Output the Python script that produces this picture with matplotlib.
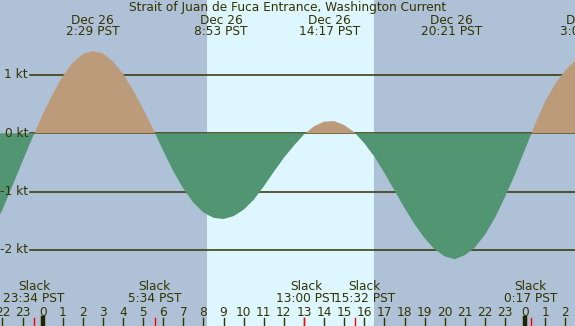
import matplotlib
import numpy as np

matplotlib.use("Agg")
from matplotlib import pyplot as plt
from matplotlib import transforms

# hours relative to midnight starting Dec 26 (PST), sampled every half hour
hours = np.arange(-2.5, 27.01, 0.5)
speed_kt = [
    -1.66, -1.31, -0.90, -0.48, -0.07,
    0.32, 0.67, 0.98, 1.21, 1.36, 1.41, 1.37, 1.23, 1.02, 0.74, 0.42, 0.07,
    -0.30, -0.65, -0.95, -1.19, -1.36, -1.45, -1.47, -1.42, -1.31, -1.14,
    -0.91, -0.66, -0.42, -0.21, -0.02,
    0.12, 0.20, 0.21, 0.14, 0.02,
    -0.17, -0.40, -0.68, -0.98, -1.28, -1.56, -1.80, -1.99, -2.11, -2.16,
    -2.09, -1.96, -1.74, -1.45, -1.09, -0.70, -0.27,
    0.16, 0.55, 0.85, 1.08, 1.25, 1.36,
]

# max flood / ebb events (top labels)
peak_hours = [2 + 29 / 60, 8 + 53 / 60, 14 + 17 / 60, 20 + 21 / 60, 27 + 5 / 60]
peak_dates = ["Dec 26", "Dec 26", "Dec 26", "Dec 26", "Dec 27"]
peak_labels = ["2:29 PST", "8:53 PST", "14:17 PST", "20:21 PST", "3:05 PST"]

# slack water events (bottom labels)
slack_hours = [-1 + 34 / 60, 5 + 34 / 60, 13.0, 15 + 32 / 60, 24 + 17 / 60]
slack_labels = ["23:34 PST", "5:34 PST", "13:00 PST", "15:32 PST", "0:17 PST"]
# nudge (points) so neighbouring slack labels don't run into each other
slack_nudge = [0, 0, 2, 7, 0]

sunrise, sunset = 8 + 10 / 60, 16 + 29 / 60
grid_kt = [1, 0, -1, -2]
grid_labels = ["1 kt", "0 kt", "-1 kt", "-2 kt"]
tick_hours = list(range(-2, 27))

NIGHT = "#afc1d6"
DAY = "#def6ff"
FLOOD = "#bc9b7a"
EBB = "#529572"
INK = "#333300"
FS = 8.7

fig = plt.figure(figsize=(5.75, 3.26), dpi=100, facecolor=NIGHT)
ax = fig.add_axes([0, 0, 1, 1])
ax.set_facecolor(NIGHT)
ax.set_xlim(-2.12, 26.48)
ax.set_ylim(-3.305, 2.286)
ax.set_axis_off()

ax.axvspan(sunrise, sunset, color=DAY, lw=0, zorder=0)

left = transforms.blended_transform_factory(ax.transAxes, ax.transData)
for value, label in zip(grid_kt, grid_labels):
    ax.axhline(value, xmin=30 / 575, color=INK, lw=1.1, zorder=1)
    ax.text(28 / 575, value, label, transform=left, ha="right", va="center",
            fontsize=FS, color=INK, zorder=3)

speed = np.array(speed_kt)
ax.fill_between(hours, speed, 0, where=speed >= 0, interpolate=True, color=FLOOD, lw=0, zorder=2)
ax.fill_between(hours, speed, 0, where=speed <= 0, interpolate=True, color=EBB, lw=0, zorder=2)

bottom = transforms.blended_transform_factory(ax.transData, ax.transAxes)
for hour in tick_hours:
    ax.plot([hour, hour], [0, 0.025], color=INK, lw=1.0, transform=bottom, zorder=3)
    if hour % 24 == 0:
        ax.plot([hour, hour], [0, 0.025], color="#222200", lw=3.2, transform=bottom, zorder=3)
    ax.text(hour, 1 - 312 / 326, str(hour % 24), transform=bottom, ha="center", va="center",
            fontsize=FS, color=INK, zorder=3)

for hour, label, nudge in zip(slack_hours, slack_labels, slack_nudge):
    ax.plot([hour, hour], [0, 0.025], color="red", lw=1.0, transform=bottom, zorder=4)
    ax.annotate("Slack", (hour, 1 - 287 / 326), xycoords=bottom, xytext=(nudge, 0),
                textcoords="offset points", ha="center", va="center",
                fontsize=FS, color=INK, zorder=3)
    ax.annotate(label, (hour, 1 - 299 / 326), xycoords=bottom, xytext=(nudge, 0),
                textcoords="offset points", ha="center", va="center",
                fontsize=FS, color=INK, zorder=3)

for hour, date, label in zip(peak_hours, peak_dates, peak_labels):
    ax.text(hour, 1 - 20 / 326, date, transform=bottom, ha="center", va="center",
            fontsize=FS, color=INK, zorder=3)
    ax.text(hour, 1 - 31.5 / 326, label, transform=bottom, ha="center", va="center",
            fontsize=FS, color=INK, zorder=3)

ax.text(0.5, 1 - 8 / 326, "Strait of Juan de Fuca Entrance, Washington Current", transform=ax.transAxes,
        ha="center", va="center", fontsize=FS, color=INK, zorder=3)

fig.savefig("out.png", dpi=100, facecolor=NIGHT)
plt.close(fig)
